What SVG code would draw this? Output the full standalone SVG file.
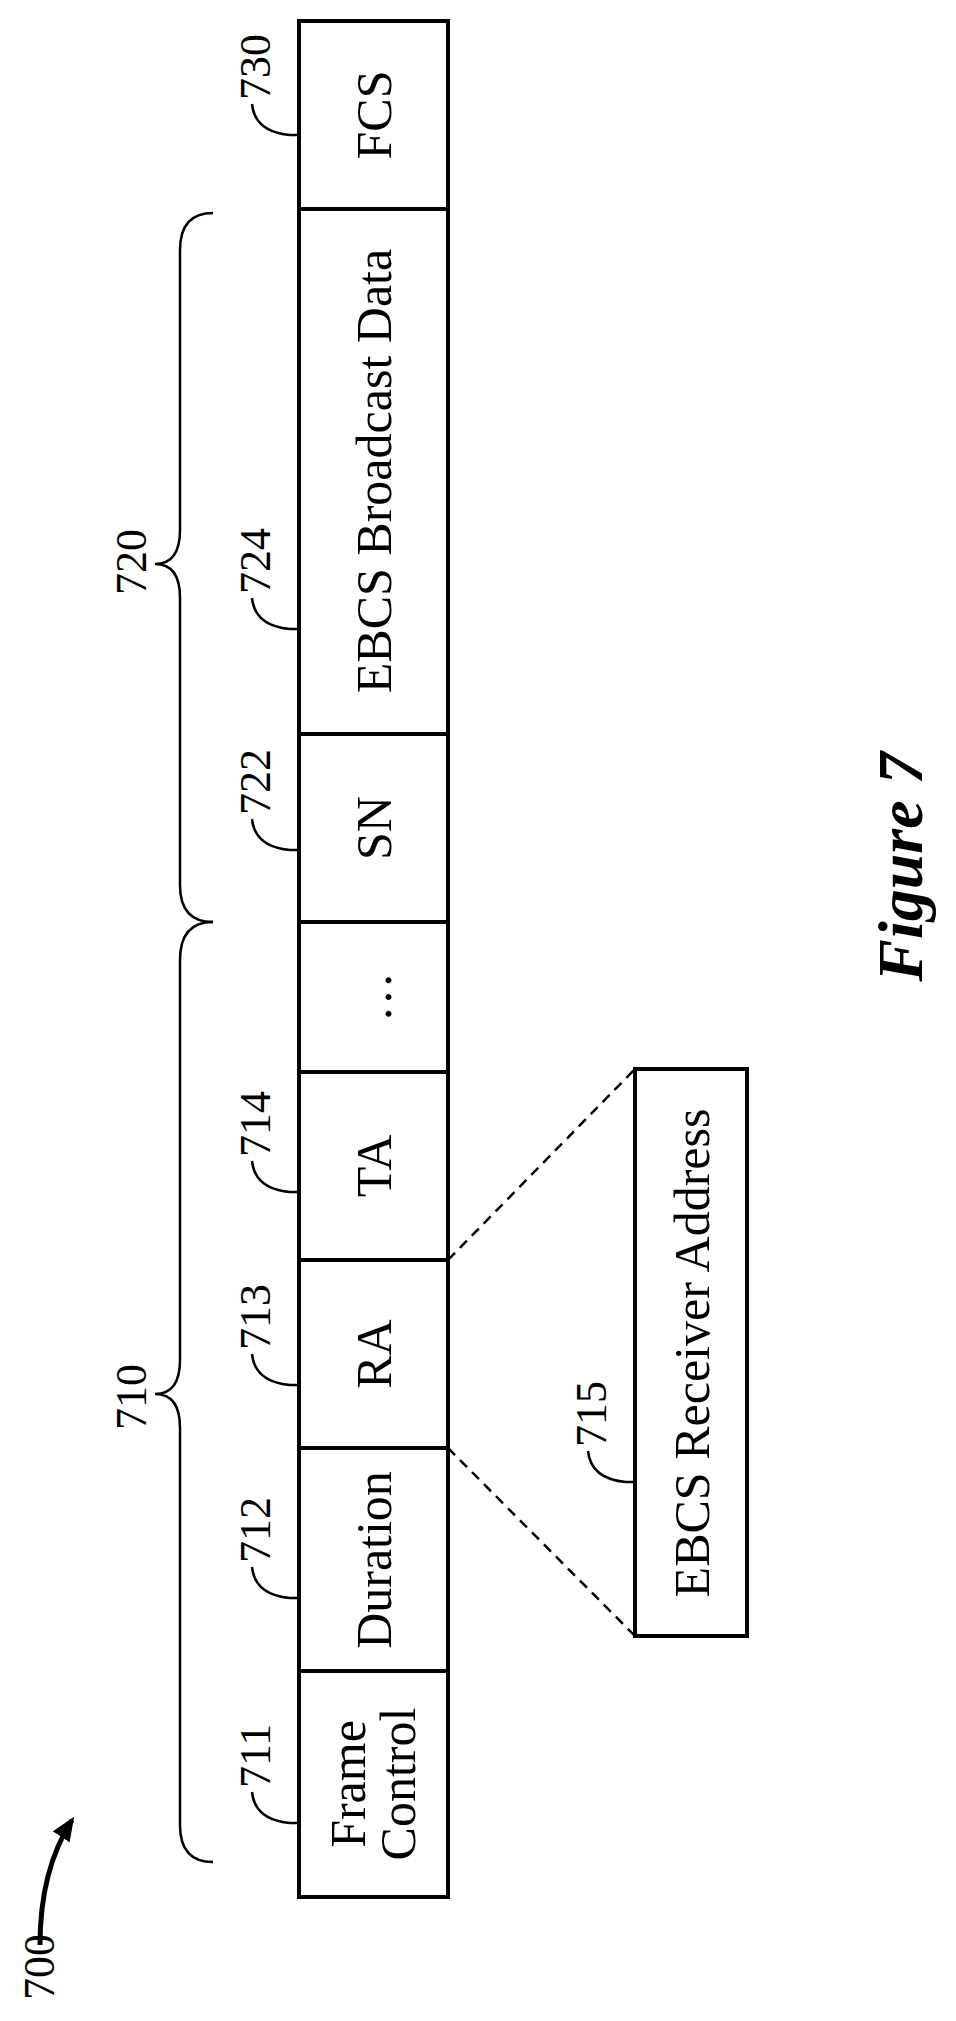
<svg xmlns="http://www.w3.org/2000/svg" width="956" height="2021" viewBox="0 0 956 2021">
<style>
.b{fill:#fff;stroke:#000;stroke-width:4}
.l{fill:none;stroke:#000;stroke-width:2.5}
.t{font-family:"Liberation Serif",serif;font-size:50px;text-anchor:middle}
.n{font-family:"Liberation Serif",serif;font-size:44px}
</style>
<defs><marker id="a" markerWidth="24" markerHeight="20" refX="20" refY="10" orient="auto" markerUnits="userSpaceOnUse"><path d="M0,0 L24,10 L0,20 Z"/></marker></defs>
<rect width="956" height="2021" fill="#fff"/>
<g id="frame">
<rect class="b" x="299" y="21" width="149" height="1876"/>
<g id="n730"><text class="t" transform="translate(391,115) rotate(-90)">FCS</text></g>
<g id="n724"><text class="t" transform="translate(391,471) rotate(-90)">EBCS Broadcast Data</text></g>
<g id="n722"><text class="t" transform="translate(391,828) rotate(-90)">SN</text></g>
<g id="ndots"><text class="t" transform="translate(391,997) rotate(-90)">…</text></g>
<g id="n714"><text class="t" transform="translate(391,1166) rotate(-90)">TA</text></g>
<g id="n713"><text class="t" transform="translate(391,1354) rotate(-90)">RA</text></g>
<g id="n712"><text class="t" transform="translate(391,1560) rotate(-90)">Duration</text></g>
<g id="n711"><text class="t" transform="translate(0,1784) rotate(-90)"><tspan x="0" y="365">Frame</tspan><tspan x="0" y="415">Control</tspan></text></g>
<path class="l" style="stroke-width:4" d="M299,209H448M299,734H448M299,922H448M299,1072H448M299,1260H448M299,1448H448M299,1671H448"/>
</g>
<g id="n715"><rect class="b" x="635" y="1069" width="112" height="567"/>
<text class="t" transform="translate(709,1353) rotate(-90)">EBCS Receiver Address</text></g>
<g id="connectors">
<path class="l" stroke-dasharray="10,7" d="M448,1260L635,1069M448,1448L635,1636"/>
<path class="l" d="M213,213Q180,213 180,250L180,530Q180,564 155,564Q180,564 180,598L180,885Q180,922 213,922"/>
<path class="l" d="M213,922Q180,922 180,960L180,1360Q180,1394 155,1394Q180,1394 180,1428L180,1825Q180,1862 213,1862"/>
<path class="l" d="M298,135L290,135Q255,132 252,104M298,629L290,629Q255,626 252,598M298,850L290,850Q255,847 252,819M298,1192L290,1192Q255,1189 252,1161M298,1385L290,1385Q255,1382 252,1354M298,1598L290,1598Q255,1595 252,1567M298,1823L290,1823Q255,1820 252,1792M634,1482L626,1482Q591,1479 588,1451"/>
<path class="l" style="stroke-width:5" marker-end="url(#a)" d="M40,1945Q40,1870 72,1820"/>
</g>
<g id="labels">
<text class="n" transform="translate(270,100) rotate(-90)">730</text>
<text class="n" transform="translate(270,594) rotate(-90)">724</text>
<text class="n" transform="translate(270,815) rotate(-90)">722</text>
<text class="n" transform="translate(270,1157) rotate(-90)">714</text>
<text class="n" transform="translate(270,1350) rotate(-90)">713</text>
<text class="n" transform="translate(270,1563) rotate(-90)">712</text>
<text class="n" transform="translate(270,1788) rotate(-90)">711</text>
<text class="n" transform="translate(606,1447) rotate(-90)">715</text>
<text class="n" transform="translate(146,595) rotate(-90)">720</text>
<text class="n" transform="translate(146,1430) rotate(-90)">710</text>
<text class="n" transform="translate(54,2000) rotate(-90)">700</text>
<text transform="translate(922,867) rotate(-90)" style="font-family:'Liberation Serif',serif;font-size:64px;font-weight:bold;font-style:italic;text-anchor:middle">Figure 7</text>
</g>
</svg>
